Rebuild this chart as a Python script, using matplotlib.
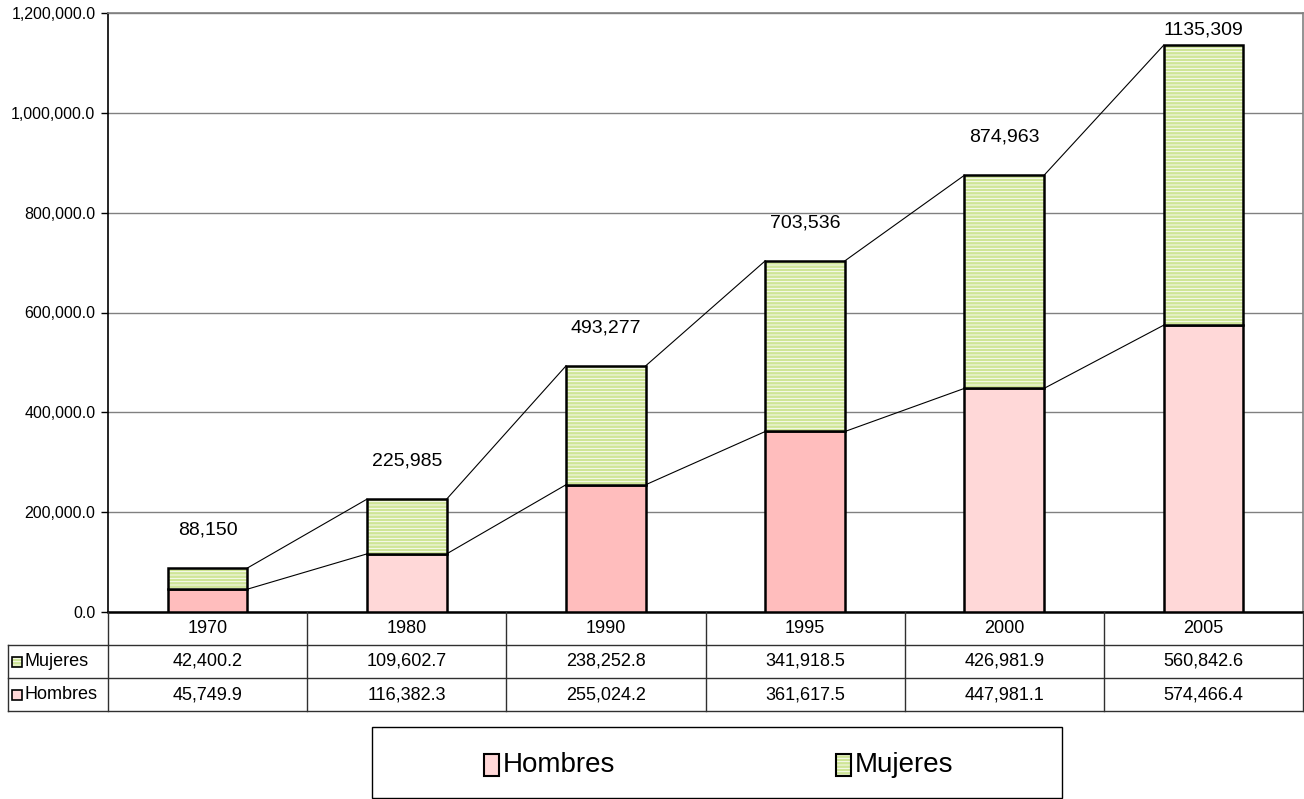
import matplotlib.pyplot as plt
from matplotlib.patches import Rectangle
from matplotlib.lines import Line2D

plt.rcParams['font.family'] = ['Liberation Sans', 'DejaVu Sans']
plt.rcParams['hatch.linewidth'] = 0.6

years = ['1970', '1980', '1990', '1995', '2000', '2005']
hombres = [45749.9, 116382.3, 255024.2, 361617.5, 447981.1, 574466.4]
mujeres = [42400.2, 109602.7, 238252.8, 341918.5, 426981.9, 560842.6]
totales = ['88,150', '225,985', '493,277', '703,536', '874,963', '1135,309']

W, H = 1304, 799
fig = plt.figure(figsize=(W / 100, H / 100), dpi=100)

# axes box in pixels
L, R, T, B = 108, 1303, 13, 612
ax = fig.add_axes([L / W, 1 - B / H, (R - L) / W, (B - T) / H])

def fx(px):
    return px / W

def fy(py):
    return 1 - py / H

pink = ['#FFBDBD', '#FFD8D8', '#FFBDBD', '#FFBDBD', '#FFD8D8', '#FFD8D8']
green = '#CFE597'
stripes = '-----'
bw = 0.4
x = list(range(len(years)))
tops = [h + m for h, m in zip(hombres, mujeres)]

ax.bar(x, hombres, bw, color=pink, edgecolor='black', linewidth=1.8, zorder=3)
ax.bar(x, mujeres, bw, bottom=hombres, color=green, edgecolor='white',
       linewidth=0, hatch=stripes, zorder=3)
ax.bar(x, mujeres, bw, bottom=hombres, color='none', edgecolor='black',
       linewidth=1.8, zorder=4)

# series lines between bars
for i in range(len(x) - 1):
    ax.plot([x[i] + bw / 2, x[i + 1] - bw / 2], [hombres[i], hombres[i + 1]],
            color='black', lw=0.8, zorder=2)
    ax.plot([x[i] + bw / 2, x[i + 1] - bw / 2], [tops[i], tops[i + 1]],
            color='black', lw=0.8, zorder=2)

for i, t in enumerate(tops):
    ax.text(x[i], min(t + 76000, 1165000), totales[i], ha='center', va='center',
            fontsize=14)

ax.set_xlim(-0.5, 5.5)
ax.set_ylim(0, 1200000)
ax.set_yticks(range(0, 1200001, 200000))
ax.set_yticklabels([f'{v:,.1f}' for v in range(0, 1200001, 200000)], fontsize=11.5)
ax.set_xticks([])
ax.yaxis.grid(True, color='#808080', lw=1)
ax.set_axisbelow(True)
ax.tick_params(axis='y', length=5, width=1, color='black', pad=4)
ax.spines['left'].set_color('black')
ax.spines['left'].set_linewidth(1.2)
ax.spines['bottom'].set_color('black')
ax.spines['bottom'].set_linewidth(1.8)
for s in ['top', 'right']:
    ax.spines[s].set_color('#808080')
    ax.spines[s].set_linewidth(1.2)

# data table under the axes
row_h = 33
col_w = (R - L) / len(years)
lc = '#303030'
y_rows = [B, B + row_h, B + 2 * row_h, B + 3 * row_h]
fig.add_artist(Line2D([fx(L), fx(L)], [fy(B), fy(y_rows[3])], color=lc, lw=1))
fig.add_artist(Line2D([fx(R), fx(R)], [fy(B), fy(y_rows[3])], color=lc, lw=1))
fig.add_artist(Line2D([fx(8), fx(8)], [fy(y_rows[1]), fy(y_rows[3])], color=lc, lw=1))
for yy in y_rows[1:]:
    fig.add_artist(Line2D([fx(8), fx(R)], [fy(yy), fy(yy)], color=lc, lw=1))
for k in range(1, len(years)):
    xx = L + k * col_w
    fig.add_artist(Line2D([fx(xx), fx(xx)], [fy(B), fy(y_rows[3])], color=lc, lw=1))

rows = [('Mujeres', mujeres), ('Hombres', hombres)]
for k, yr in enumerate(years):
    cx = L + (k + 0.5) * col_w
    fig.text(fx(cx), fy(B + row_h / 2), yr, ha='center', va='center', fontsize=13)
    for r, (name, vals) in enumerate(rows):
        fig.text(fx(cx), fy(y_rows[r + 1] + row_h / 2), f'{vals[k]:,.1f}',
                 ha='center', va='center', fontsize=13)

for r, (name, vals) in enumerate(rows):
    yc = y_rows[r + 1] + row_h / 2
    if name == 'Mujeres':
        fig.add_artist(Rectangle((fx(12), fy(yc + 5)), fx(10), 10 / H, facecolor=green,
                                 edgecolor='white', hatch=stripes, lw=0))
    else:
        fig.add_artist(Rectangle((fx(12), fy(yc + 5)), fx(10), 10 / H,
                                 facecolor='#FFD8D8', lw=0))
    fig.add_artist(Rectangle((fx(12), fy(yc + 5)), fx(10), 10 / H,
                             facecolor='none', edgecolor='black', lw=1.2))
    fig.text(fx(25), fy(yc), name, ha='left', va='center', fontsize=13)

# legend box
fig.add_artist(Rectangle((fx(372), fy(798)), fx(690), 71 / H, facecolor='none',
                         edgecolor='black', lw=1))
for kx, name in [(484, 'Hombres'), (836, 'Mujeres')]:
    if name == 'Mujeres':
        fig.add_artist(Rectangle((fx(kx), fy(776)), fx(15), 22 / H, facecolor=green,
                                 edgecolor='white', hatch=stripes, lw=0))
    else:
        fig.add_artist(Rectangle((fx(kx), fy(776)), fx(15), 22 / H,
                                 facecolor='#FFD8D8', lw=0))
    fig.add_artist(Rectangle((fx(kx), fy(776)), fx(15), 22 / H, facecolor='none',
                             edgecolor='black', lw=1.5))
    fig.text(fx(kx + 19), fy(765), name, ha='left', va='center', fontsize=20)

fig.savefig('out.png', dpi=100)
